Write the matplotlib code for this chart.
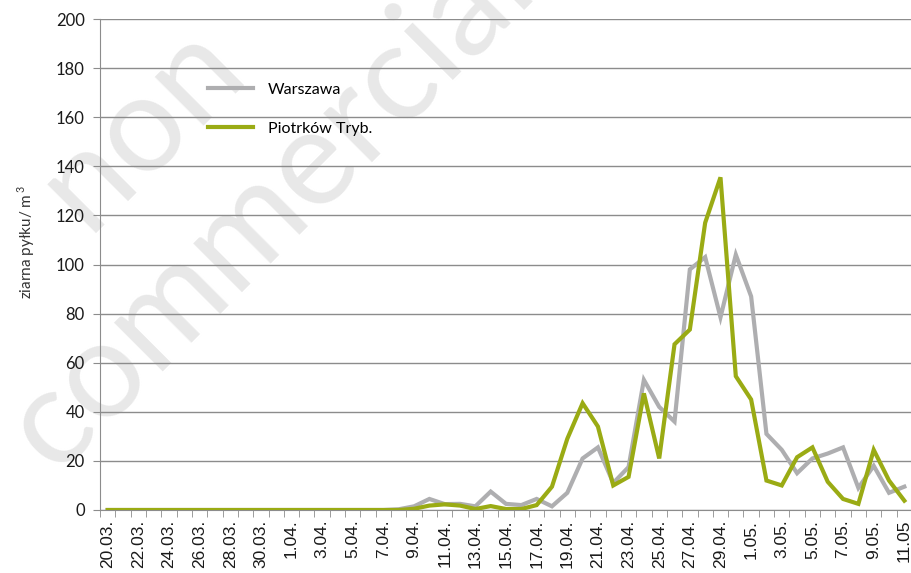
import numpy as np
import matplotlib.pyplot as plt
import matplotlib as mpl

mpl.rcParams['mathtext.fontset'] = 'custom'
mpl.rcParams['mathtext.rm'] = 'Lato'

# dni pomiarowe 20.03 - 11.05
dni = ['20.03.', '21.03.', '22.03.', '23.03.', '24.03.', '25.03.', '26.03.', '27.03.',
       '28.03.', '29.03.', '30.03.', '31.03.', '1.04.', '2.04.', '3.04.', '4.04.',
       '5.04.', '6.04.', '7.04.', '8.04.', '9.04.', '10.04.', '11.04.', '12.04.',
       '13.04.', '14.04.', '15.04.', '16.04.', '17.04.', '18.04.', '19.04.', '20.04.',
       '21.04.', '22.04.', '23.04.', '24.04.', '25.04.', '26.04.', '27.04.', '28.04.',
       '29.04.', '30.04.', '1.05.', '2.05.', '3.05.', '4.05.', '5.05.', '6.05.',
       '7.05.', '8.05.', '9.05.', '10.05.', '11.05']

warszawa = [0, 0, 0, 0, 0, 0, 0, 0, 0, 0, 0, 0, 0, 0, 0, 0, 0, 0, 0, 0.3,
            1.5, 4.5, 2.4, 2.5, 1.5, 7.5, 2.5, 2, 4.5, 1.5, 7, 21, 25.5, 11, 17.5,
            53, 42, 36, 98, 103, 78.5, 104, 87, 31, 24.5, 15, 21, 23, 25.5, 9,
            18, 7, 9.5]

piotrkow = [0, 0, 0, 0, 0, 0, 0, 0, 0, 0, 0, 0, 0, 0, 0, 0, 0, 0, 0, 0,
            0.5, 1.8, 2.3, 1.8, 0.4, 1.6, 0.4, 0.4, 2, 9.5, 29, 43.5, 34, 10, 13.5,
            47.5, 21, 67.5, 73.5, 117, 135.5, 54.5, 45, 12, 10, 21.5, 25.5, 11.5, 4.5, 2.5,
            24.5, 12, 3.8]

x = np.arange(len(dni))

fig = plt.figure(figsize=(9.11, 5.73), dpi=100)

# znak wodny w tle
fig.text(270 / 911, 1 - 205 / 573, 'commercial', rotation=45, fontsize=98,
         family='Lato', color='#e8e8e8', ha='center', va='center', zorder=-5)
fig.text(140 / 911, 1 - 125 / 573, 'non', rotation=45, fontsize=98,
         family='Lato', color='#e8e8e8', ha='center', va='center', zorder=-5)

ax = fig.add_axes([100 / 911, 63 / 573, 812 / 911, 491 / 573])
ax.patch.set_alpha(0)

ax.plot(x, warszawa, color='#aeaeb0', lw=3, label='Warszawa', zorder=3,
        solid_joinstyle='miter')
ax.plot(x, piotrkow, color='#9aab14', lw=3, label='Piotrków Tryb.', zorder=4,
        solid_joinstyle='miter')

ax.set_xlim(-0.5, len(dni) - 0.5)
ax.set_ylim(0, 200)
ax.set_yticks(np.arange(0, 201, 20))
ax.yaxis.grid(True, color='#8c8c8c', lw=1)
ax.set_axisbelow(True)

for lab in ax.get_yticklabels():
    lab.set_family('Lato')
ax.tick_params(axis='y', labelsize=12, length=5, color='#8c8c8c', pad=6,
               labelcolor='#1a1a1a')

# etykiety co drugi dzień, kreski między kategoriami
ax.set_xticks(x[::2])
ax.set_xticklabels(dni[::2], rotation=90, family='Liberation Sans', fontsize=12.5,
                   color='#1a1a1a')
ax.set_xticks(np.arange(-0.5, len(dni), 1), minor=True)
ax.tick_params(axis='x', which='major', length=0, pad=7)
ax.tick_params(axis='x', which='minor', length=5, color='#8c8c8c')

for s in ['top', 'right']:
    ax.spines[s].set_visible(False)
ax.spines['left'].set_color('#8c8c8c')
ax.spines['bottom'].set_color('#8c8c8c')

fig.text(26 / 911, 1 - 242 / 573, r'ziarna pyłku/ m$^{\,3}$', rotation=90,
         family='Lato', fontsize=11, color='#333333', ha='center', va='center')

leg = ax.legend(loc='upper left', bbox_to_anchor=(0.133, 0.871), frameon=False,
                prop={'family': 'Lato', 'size': 11.5}, handlelength=2.8,
                handletextpad=0.95, labelspacing=1.56, borderpad=0,
                borderaxespad=0)

plt.savefig('out.png')
